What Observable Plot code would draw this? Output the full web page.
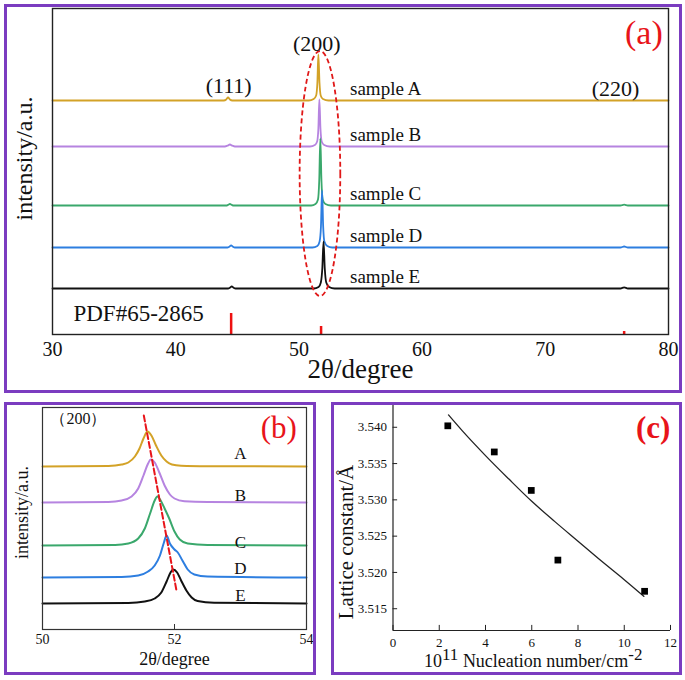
<!DOCTYPE html>
<html><head><meta charset="utf-8">
<script src="https://cdn.jsdelivr.net/npm/d3@7"></script>
<script src="https://cdn.jsdelivr.net/npm/@observablehq/plot@0.6"></script>
<style>
body{margin:0;background:#fff;}
#fig{position:relative;width:685px;height:680px;overflow:hidden;}
.box{position:absolute;border:3px solid #7b3cc0;box-sizing:border-box;z-index:5;pointer-events:none;}
.panel{position:absolute;z-index:1;}
</style></head><body>
<div id="fig">
  <div class="panel" id="pa" style="left:0;top:0"></div>
  <div class="panel" id="pb" style="left:0;top:395px"></div>
  <div class="panel" id="pc" style="left:331px;top:402px"></div>
  <div class="box" style="left:4px;top:4px;width:678px;height:389px"></div>
  <div class="box" style="left:4px;top:402px;width:312px;height:273px"></div>
  <div class="box" style="left:331px;top:402px;width:351px;height:273px"></div>
</div>
<script>
// ---------- data ----------
const sampleNames = ["sample A", "sample B", "sample C", "sample D", "sample E"];
const shortNames = ["A", "B", "C", "D", "E"];
const sampleColors = ["#d3a227", "#b684e0", "#3aa86c", "#2d7ee0", "#111111"];

// panel (a): full XRD patterns (2θ, intensity a.u. above each baseline)
const offsetsA = [234, 188, 129, 87, 46];
const xrdA = [[30,0],[43.9,0],[44.1,1],[44.25,3],[44.4,1],[44.6,0],[50.8,0],[51.2,1.5],[51.4,5],[51.5,18],[51.58,46],[51.67,18],[51.77,5],[51.95,1.5],[52.4,0],[80,0]];
const xrdB = [[30,0],[44.0,0],[44.2,0.8],[44.4,2],[44.6,0.8],[44.8,0],[50.9,0],[51.3,1.5],[51.48,5],[51.58,18],[51.66,47],[51.75,18],[51.85,5],[52.05,1.5],[52.5,0],[80,0]];
const xrdC = [[30,0],[44.1,0],[44.25,0.6],[44.4,1.5],[44.55,0.6],[44.7,0],[51.0,0],[51.35,1.5],[51.55,6],[51.65,25],[51.74,67],[51.83,25],[51.93,6],[52.15,1.5],[52.6,0],[76.1,0],[76.4,0.8],[76.7,0],[80,0]];
const xrdD = [[30,0],[44.2,0],[44.35,0.8],[44.5,2],[44.65,0.8],[44.8,0],[51.1,0],[51.5,1.5],[51.68,6],[51.79,21],[51.88,57],[51.97,21],[52.07,6],[52.3,1.5],[52.7,0],[76.1,0],[76.4,1],[76.7,0],[80,0]];
const xrdE = [[30,0],[44.25,0],[44.4,0.8],[44.55,2],[44.7,0.8],[44.85,0],[51.2,0],[51.6,1.5],[51.78,6],[51.9,20],[52.0,47],[52.1,20],[52.22,6],[52.45,1.5],[52.9,0],[76.1,0],[76.4,1.2],[76.7,0],[80,0]];
const pdfAngles = [44.5, 51.8, 76.4];
const pdfIntensity = [21, 8, 3];
const hklLabels = ["(111)", "(200)", "(220)"];
const hklAngles = [44.3, 51.45, 75.7];
const xTicksA = [30, 40, 50, 60, 70, 80];

// panel (b): (200) peak detail
const offsetsB = [163, 127, 84, 52, 26];
const peakA = [[50,0],[51.0,0.5],[51.2,2],[51.3,4],[51.4,10],[51.47,18],[51.53,28],[51.59,35],[51.65,31],[51.72,21],[51.8,11],[51.88,5],[51.96,2],[52.1,0.8],[52.5,0.3],[54,0]];
const peakB = [[50,0],[51.0,0.5],[51.2,2],[51.35,6],[51.45,14],[51.53,27],[51.6,39],[51.64,43],[51.7,40],[51.77,30],[51.85,17],[51.93,8],[52.0,4],[52.15,1.2],[52.5,0.4],[54,0]];
const peakC = [[50,0],[51.1,0.5],[51.3,2],[51.45,7],[51.55,17],[51.63,32],[51.7,45],[51.74,49],[51.79,45],[51.85,37],[51.92,27],[52.0,14],[52.08,6],[52.2,2],[52.5,0.5],[54,0]];
const peakD = [[50,0],[51.2,0.5],[51.45,2],[51.6,6],[51.7,12],[51.78,22],[51.84,35],[51.88,42],[51.93,34],[52.0,28],[52.05,25],[52.12,17],[52.2,8],[52.3,3],[52.5,1],[54,0]];
const peakE = [[50,0],[51.3,0.5],[51.55,2],[51.7,5],[51.8,11],[51.88,22],[51.94,31],[51.98,34],[52.04,31],[52.1,23],[52.18,13],[52.26,6],[52.35,2.5],[52.6,0.8],[54,0]];
const shiftLine = [[51.535, 214], [52.03, 39]];
const xTicksB = [50, 52, 54];

// panel (c): lattice constant vs nucleation number
const nucleation = [2.37, 4.38, 5.98, 7.13, 10.88];
const lattice = [3.5402, 3.5366, 3.5313, 3.5217, 3.5174];
const fitX = [2.4, 3, 4, 5, 6, 7, 8, 9, 10, 10.85];
const fitY = [3.5417, 3.5395, 3.5361, 3.5329, 3.5298, 3.5270, 3.5243, 3.5216, 3.5190, 3.5167];
const xTicksC = [0, 2, 4, 6, 8, 10, 12];
const yTicksC = [3.515, 3.520, 3.525, 3.530, 3.535, 3.540];

// ---------- drawing ----------
const SERIF = "'Liberation Serif','Times New Roman',serif";
const toRows = (pts, off) => pts.map(([x, y]) => ({x, y: y + off}));
const svgNS = "http://www.w3.org/2000/svg";

// Panel (a)
const xrdSets = [xrdA, xrdB, xrdC, xrdD, xrdE];
const ellipseMark = (index, {x, y}) => {
  const e = document.createElementNS(svgNS, "ellipse");
  const x0 = x(50.1), x1 = x(53.4), y0 = y(283), y1 = y(38);
  e.setAttribute("cx", (x0 + x1) / 2);
  e.setAttribute("cy", (y0 + y1) / 2);
  e.setAttribute("rx", Math.abs(x1 - x0) / 2);
  e.setAttribute("ry", Math.abs(y1 - y0) / 2);
  e.setAttribute("fill", "none");
  e.setAttribute("stroke", "#e01818");
  e.setAttribute("stroke-width", 1.8);
  e.setAttribute("stroke-dasharray", "5,3");
  return e;
};
const pdfRows = pdfAngles.map((a, i) => ({a, v: pdfIntensity[i]}));
const plotA = Plot.plot({
  width: 685, height: 392,
  marginLeft: 52, marginRight: 17, marginTop: 8, marginBottom: 58,
  x: {domain: [30, 80]},
  y: {domain: [0, 326], axis: null},
  style: {background: "transparent", fontFamily: SERIF, fontSize: "20px", color: "#111"},
  marks: [
    ...xrdSets.map((d, i) => Plot.line(toRows(d, offsetsA[i]), {x: "x", y: "y", stroke: sampleColors[i], strokeWidth: 1.8, curve: "monotone-x"})),
    Plot.ruleX(pdfRows, {x: "a", y1: 0, y2: "v", stroke: "#ee1111", strokeWidth: 2.5}),
    ellipseMark,
    Plot.frame({stroke: "#222", strokeWidth: 1.4}),
    Plot.text(hklLabels, {x: (d, i) => hklAngles[i], y: (d, i) => [249, 291, 246][i], text: d => d, fontSize: 22}),
    Plot.text(sampleNames, {x: () => 54.15, y: (d, i) => offsetsA[i] + 12, text: d => d, textAnchor: "start", fontSize: 19}),
    Plot.text(["PDF#65-2865"], {x: () => 31.7, y: () => 21, text: d => d, textAnchor: "start", fontSize: 23}),
    Plot.text(["(a)"], {x: () => 78, y: () => 301, text: d => d, fill: "#e8141a", fontSize: 34}),
    Plot.axisX({ticks: xTicksA, tickSize: 0, tickPadding: 7, label: null, tickFormat: d3.format("d")}),
    Plot.text(["2θ/degree"], {frameAnchor: "bottom", dy: 43, text: d => d, fontSize: 27}),
    Plot.text(["intensity/a.u."], {frameAnchor: "left", textAnchor: "middle", rotate: -90, dx: -28, dy: -13, text: d => d, fontSize: 24})
  ]
});
document.getElementById("pa").appendChild(plotA);

// Panel (b)
const peakSets = [peakA, peakB, peakC, peakD, peakE];
const plotB = Plot.plot({
  width: 320, height: 280,
  marginLeft: 42, marginRight: 14, marginTop: 12, marginBottom: 46,
  x: {domain: [50, 54]},
  y: {domain: [0, 222], axis: null},
  style: {background: "transparent", fontFamily: SERIF, fontSize: "14px", color: "#111"},
  marks: [
    ...peakSets.map((d, i) => Plot.line(toRows(d, offsetsB[i]), {x: "x", y: "y", stroke: sampleColors[i], strokeWidth: 2, curve: "monotone-x"})),
    Plot.line(shiftLine, {x: d => d[0], y: d => d[1], stroke: "#e8141a", strokeWidth: 2, strokeDasharray: "6,3"}),
    Plot.frame({stroke: "#333", strokeWidth: 1.2}),
    Plot.ruleX(xTicksB, {x: d => d, y1: 0, y2: 5, stroke: "#333"}),
    Plot.text(["（200）"], {x: () => 50.12, y: () => 211, text: d => d, textAnchor: "start", fontSize: 16}),
    Plot.text(["(b)"], {x: () => 53.58, y: () => 201, text: d => d, fill: "#e8141a", fontSize: 31}),
    Plot.text(shortNames, {x: () => 53.0, y: (d, i) => [176, 134, 87, 61, 34][i], text: d => d, fontSize: 17}),
    Plot.axisX({ticks: xTicksB, tickSize: 0, tickPadding: 5, label: null, tickFormat: d3.format("d")}),
    Plot.text(["2θ/degree"], {frameAnchor: "bottom", dy: 35, text: d => d, fontSize: 18}),
    Plot.text(["intensity/a.u."], {frameAnchor: "left", textAnchor: "middle", rotate: -90, dx: -20, dy: -6, text: d => d, fontSize: 18})
  ]
});
document.getElementById("pb").appendChild(plotB);

// Panel (c)
const pts = nucleation.map((n, i) => ({n, a: lattice[i]}));
const fit = fitX.map((n, i) => ({n, a: fitY[i]}));
const supLabel = (index, scales, values, dims) => {
  const t = document.createElementNS(svgNS, "text");
  const cx = (dims.marginLeft + dims.width - dims.marginRight) / 2 + 2;
  const cy = dims.height - dims.marginBottom + 37;
  t.setAttribute("x", cx); t.setAttribute("y", cy);
  t.setAttribute("text-anchor", "middle");
  t.setAttribute("font-size", 18);
  t.setAttribute("fill", "#111");
  const parts = [["10", 0, 18], ["11", -7, 17], [" Nucleation number/cm", 7, 18], ["-2", -7, 17]];
  for (const [s, dy, fs] of parts) {
    const sp = document.createElementNS(svgNS, "tspan");
    sp.setAttribute("dy", dy);
    sp.setAttribute("font-size", fs);
    sp.textContent = s;
    t.appendChild(sp);
  }
  return t;
};
const plotC = Plot.plot({
  width: 351, height: 273,
  marginLeft: 61.5, marginRight: 12, marginTop: 3, marginBottom: 45,
  x: {domain: [0, 12]},
  y: {domain: [3.512, 3.543]},
  style: {background: "transparent", fontFamily: SERIF, fontSize: "13px", color: "#111"},
  marks: [
    Plot.ruleX([0], {stroke: "#222", strokeWidth: 1.2}),
    Plot.ruleY([3.512], {stroke: "#222", strokeWidth: 1.2}),
    Plot.ruleX(xTicksC, {x: d => d, y1: 3.512, y2: 3.5127, stroke: "#222"}),
    Plot.ruleY(yTicksC, {y: d => d, x1: 0, x2: 0.2, stroke: "#222"}),
    Plot.line(fit, {x: "n", y: "a", stroke: "#222", strokeWidth: 1.3, curve: "monotone-x"}),
    Plot.dot(pts, {x: "n", y: "a", symbol: "square", r: 3.8, fill: "#000", stroke: "none"}),
    Plot.text(["(c)"], {x: () => 11.25, y: () => 3.5399, text: d => d, fill: "#e8141a", fontSize: 31, fontWeight: "bold"}),
    Plot.axisX({ticks: xTicksC, tickSize: 0, tickPadding: 7, label: null, tickFormat: d3.format("d")}),
    Plot.axisY({ticks: yTicksC, tickSize: 0, tickPadding: 6, label: null, tickFormat: d3.format(".3f")}),
    supLabel,
    Plot.text(["Lattice constant/Å"], {frameAnchor: "left", textAnchor: "middle", rotate: -90, dx: -47, dy: 24, text: d => d, fontSize: 21})
  ]
});
document.getElementById("pc").appendChild(plotC);
</script>
</body></html>
